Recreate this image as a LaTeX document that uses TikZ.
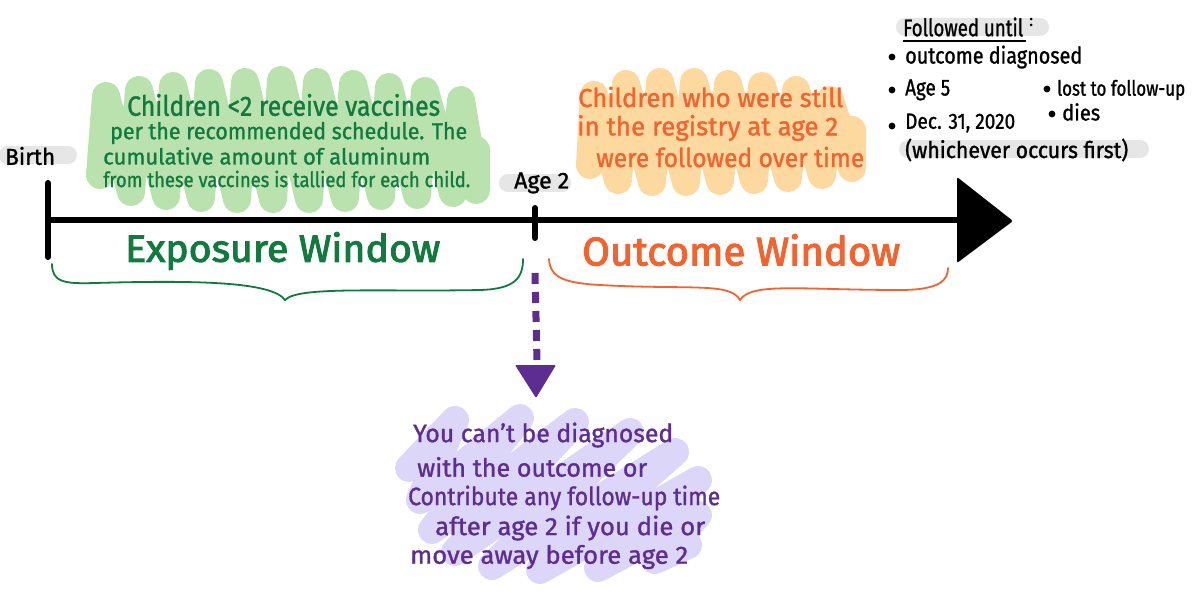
\documentclass[tikz,border=0pt]{standalone}
\usepackage{fontspec}
\setmainfont{Fira Sans}
\newfontfamily\hand{Fira Sans}[FakeBold=1.2]
\newfontfamily\handbig{Fira Sans}[FakeBold=2.6]
\usepackage{graphicx}
\newcommand{\fitw}[2]{\resizebox{#1}{\height}{#2}}
\definecolor{dkgreen}{HTML}{137A3F}
\definecolor{ltgreen}{HTML}{BAE2AE}
\definecolor{orng}{HTML}{F2632F}
\definecolor{peach}{HTML}{FDD9A0}
\definecolor{purp}{HTML}{5E2D91}
\definecolor{lav}{HTML}{DCD6F9}
\definecolor{hlgray}{HTML}{E6E6E6}
\begin{document}
\begin{tikzpicture}[x=1pt,y=-1pt,
  scrib/.style={line width=28pt,line cap=round,line join=round},
  hl/.style={hlgray,line width=18pt,line cap=round},
  txt/.style={inner sep=0pt,anchor=west,font=\hand},
  title/.style={inner sep=0pt,anchor=west,font=\handbig},
  axis/.style={line width=6pt},
  tick/.style={line width=6pt,line cap=round},
  brace/.style={line width=1.8pt,line cap=round},
  bullet/.style={circle,fill,inner sep=0pt,minimum size=6.8pt}]
\useasboundingbox (0,0) rectangle (1196,605);
\fill[white] (0,0) rectangle (1196,605);

% scribble backgrounds
\draw[scrib,ltgreen] (100,175) -- (106,96) -- (131,192) -- (139,90) -- (166,196) -- (173,86)
  -- (201,198) -- (209,83) -- (237,199) -- (245,82) -- (273,199) -- (281,80) -- (309,199)
  -- (317,82) -- (345,198) -- (353,84) -- (381,196) -- (389,87) -- (417,195) -- (425,91)
  -- (453,193) -- (461,100) -- (476,190) -- (476,150);
\draw[scrib,peach] (590,165) -- (594,95) -- (618,180) -- (626,84) -- (652,182) -- (660,82)
  -- (686,182) -- (694,82) -- (720,181) -- (728,84) -- (754,180) -- (762,86) -- (788,178)
  -- (796,90) -- (822,175) -- (830,100) -- (852,168) -- (852,130);
\draw[scrib,lav] (409,468) -- (455,420) -- (420,500) -- (520,418) -- (432,530) -- (575,422)
  -- (455,552) -- (630,432) -- (492,566) -- (675,452) -- (540,570) -- (698,480)
  -- (598,568) -- (698,515) -- (655,560) -- (688,545);

% grey highlights
\draw[hl] (8,155) -- (68,155);
\draw[hl] (508,183) -- (562,183);
\draw[hl] (905,27) -- (1040,27);
\draw[hl] (908,149) -- (1140,149);

% timeline
\coordinate (tlStart) at (48,220);
\coordinate (tlEnd) at (960,220);
\draw[axis] (tlStart) -- (tlEnd);
\coordinate (birthTop) at (48,183);
\coordinate (birthBot) at (48,257);
\draw[tick] (birthTop) -- (birthBot);
\coordinate (ageTop) at (535,208);
\coordinate (ageBot) at (535,238);
\draw[tick] (ageTop) -- (ageBot);
\fill[rounded corners=2pt] (957,177) -- (1013,221) -- (957,263) -- cycle;

\node[txt] (birth) at (5,156) {\fitw{50pt}{\fontsize{23}{23}\selectfont Birth}};
\node[txt] (age2) at (514,183) {\fitw{55pt}{\fontsize{23}{23}\selectfont Age 2}};

% green block
\node[txt,dkgreen] (g1) at (127,105) {\fitw{313pt}{\fontsize{28}{28}\selectfont Children <2 receive vaccines}};
\node[txt,dkgreen] (g2) at (110,133) {\fitw{357pt}{\fontsize{23}{23}\selectfont per the recommended schedule. The}};
\node[txt,dkgreen] (g3) at (103,156) {\fitw{327pt}{\fontsize{22}{22}\selectfont cumulative amount of aluminum}};
\node[txt,dkgreen] (g4) at (103,179) {\fitw{367pt}{\fontsize{21}{21}\selectfont from these vaccines is tallied for each child.}};

\node[title,dkgreen] (expo) at (125,251) {\fitw{315pt}{\fontsize{38}{38}\selectfont Exposure Window}};

% orange block
\node[txt,orng] (o1) at (578,97) {\fitw{265pt}{\fontsize{26}{26}\selectfont Children who were still}};
\node[txt,orng] (o2) at (577,128) {\fitw{261pt}{\fontsize{26}{26}\selectfont in the registry at age 2}};
\node[txt,orng] (o3) at (596,157) {\fitw{268pt}{\fontsize{26}{26}\selectfont were followed over time}};

\node[title,orng] (outc) at (582,250) {\fitw{318pt}{\fontsize{40}{40}\selectfont Outcome Window}};

% braces
\draw[brace,dkgreen] (52,264) .. controls (52,282) and (64,284) .. (95,283)
  .. controls (200,280) and (272,282) .. (285,300)
  .. controls (298,286) and (380,292) .. (480,290)
  .. controls (515,289) and (523,278) .. (523,259);
\draw[brace,orng] (549,259) .. controls (550,278) and (565,283) .. (600,285)
  .. controls (690,290) and (730,282) .. (740,300)
  .. controls (752,282) and (800,290) .. (900,290)
  .. controls (940,290) and (948,280) .. (948,268);

% purple arrow
\coordinate (dashTop) at (535,273);
\coordinate (dashEnd) at (537,362);
\draw[purp,line width=7pt,dash pattern=on 11pt off 8pt] (dashTop) -- (dashEnd);
\fill[purp,rounded corners=1pt] (515,365) -- (556,365) -- (536,398) -- cycle;

% purple block
\node[txt,purp] (p1) at (413,435) {\fitw{260pt}{\fontsize{25}{25}\selectfont You can’t be diagnosed}};
\node[txt,purp] (p2) at (417,467) {\fitw{230pt}{\fontsize{25}{25}\selectfont with the outcome or}};
\node[txt,purp] (p3) at (408,498) {\fitw{312pt}{\fontsize{25}{25}\selectfont Contribute any follow-up time}};
\node[txt,purp] (p4) at (435,528) {\fitw{270pt}{\fontsize{25}{25}\selectfont after age 2 if you die or}};
\node[txt,purp] (p5) at (410,557) {\fitw{278pt}{\fontsize{25}{25}\selectfont move away before age 2}};

% top right
\node[txt] (fu) at (903,27) {\fitw{120pt}{\fontsize{24}{24}\selectfont Followed until}};
\node[txt] (colon) at (1029,22) {\fontsize{16}{16}\selectfont :};
\draw[line width=1.8pt] (903,41) -- (1026,41);
\node[bullet] (d1) at (892,57) {};
\node[txt] (b1) at (905,57) {\fitw{177pt}{\fontsize{23}{23}\selectfont outcome diagnosed}};
\node[bullet] (d2) at (892,90) {};
\node[txt] (b2) at (905,90) {\fitw{45pt}{\fontsize{23}{23}\selectfont Age 5}};
\node[bullet] (d3) at (892,126) {};
\node[txt] (b3) at (905,123) {\fitw{110pt}{\fontsize{22}{22}\selectfont Dec. 31, 2020}};
\node[txt] (b3b) at (905,150) {\fitw{223pt}{\fontsize{23}{23}\selectfont (whichever occurs first)}};
\node[bullet] (d4) at (1047,89) {};
\node[txt] (b4) at (1057,90) {\fitw{128pt}{\fontsize{21}{21}\selectfont lost to follow-up}};
\node[bullet] (d5) at (1052,114) {};
\node[txt] (b5) at (1062,112) {\fitw{38pt}{\fontsize{22}{22}\selectfont dies}};
\end{tikzpicture}
\end{document}
